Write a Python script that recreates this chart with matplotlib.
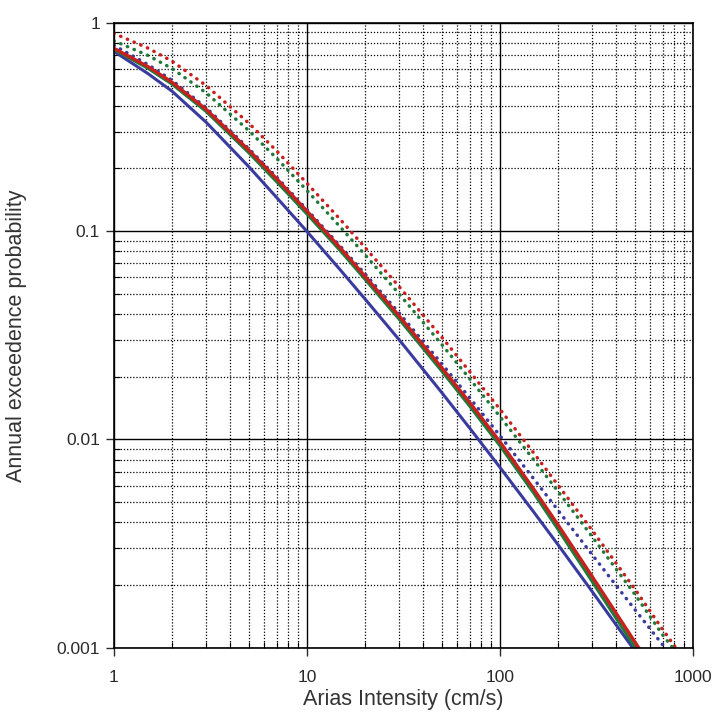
import matplotlib.pyplot as plt
from matplotlib.ticker import LogLocator, FixedFormatter, FixedLocator, NullFormatter

plt.rcParams['font.family'] = ['Liberation Sans', 'DejaVu Sans']

# Arias intensity (cm/s)
ai = [1, 1.5, 2, 3, 5, 7, 10, 15, 20, 30, 50, 70, 100, 150, 200, 300, 500, 700, 1000]

# annual exceedance probability
blue_solid = [0.730, 0.571, 0.470, 0.334, 0.204, 0.1445, 0.0998, 0.0647, 0.0473, 0.0302, 0.0168, 0.0113,
              0.00736, 0.00448, 0.00313, 0.00187, 0.00097, 0.00063, 0.000397]
green_solid = [0.745, 0.605, 0.508, 0.376, 0.238, 0.172, 0.121, 0.080, 0.0588, 0.0379, 0.0213, 0.0144,
               0.00935, 0.00552, 0.00371, 0.00209, 0.00101, 0.00063, 0.00038]
red_solid = [0.755, 0.617, 0.519, 0.385, 0.245, 0.178, 0.125, 0.0826, 0.0608, 0.0393, 0.0221, 0.0150,
             0.00977, 0.00577, 0.0039, 0.00221, 0.00107, 0.000665, 0.0004]
blue_dot = [0.780, 0.631, 0.530, 0.392, 0.249, 0.181, 0.127, 0.0842, 0.0624, 0.0406, 0.0231, 0.0158,
            0.01045, 0.00647, 0.00458, 0.00281, 0.00153, 0.00103, 0.00068]
green_dot = [0.820, 0.698, 0.604, 0.462, 0.304, 0.223, 0.157, 0.104, 0.0771, 0.0501, 0.0286, 0.0195,
             0.0129, 0.00798, 0.00564, 0.00343, 0.00181, 0.00115, 0.00075]
red_dot = [0.890, 0.757, 0.655, 0.501, 0.330, 0.242, 0.170, 0.113, 0.0836, 0.0543, 0.0310, 0.0211,
           0.0140, 0.0086, 0.00605, 0.00368, 0.00192, 0.00122, 0.00077]

BLUE = '#3a3b9e'
RED = '#c8201e'
GREEN = '#1f7a3a'
DOTS = (0, (0.1, 2.0))

fig = plt.figure(figsize=(7.12, 7.15), dpi=100)
ax = fig.add_axes([0.160, 0.094, 0.813, 0.874])

ax.plot(ai, red_dot, color=RED, lw=2.5, ls=DOTS, dash_capstyle='round')
ax.plot(ai, green_dot, color=GREEN, lw=2.5, ls=DOTS, dash_capstyle='round')
ax.plot(ai, blue_dot, color=BLUE, lw=2.5, ls=DOTS, dash_capstyle='round')
ax.plot(ai, blue_solid, color=BLUE, lw=2.2)
ax.plot(ai, green_solid, color=GREEN, lw=2.2)
ax.plot(ai, red_solid, color=RED, lw=2.4)

ax.set_xscale('log')
ax.set_yscale('log')
ax.set_xlim(1, 1000)
ax.set_ylim(0.001, 1)

ax.xaxis.set_major_locator(FixedLocator([1, 10, 100, 1000]))
ax.xaxis.set_major_formatter(FixedFormatter(['1', '10', '100', '1000']))
ax.yaxis.set_major_locator(FixedLocator([0.001, 0.01, 0.1, 1]))
ax.yaxis.set_major_formatter(FixedFormatter(['0.001', '0.01', '0.1', '1']))
ax.xaxis.set_minor_locator(LogLocator(base=10, subs=range(2, 10), numticks=20))
ax.yaxis.set_minor_locator(LogLocator(base=10, subs=range(2, 10), numticks=20))
ax.xaxis.set_minor_formatter(NullFormatter())
ax.yaxis.set_minor_formatter(NullFormatter())

ax.grid(which='major', color='black', lw=1.0, ls='-')
ax.grid(which='minor', color='black', lw=0.9, ls=(0, (1, 1.5)))
ax.set_axisbelow(True)

ax.tick_params(which='major', direction='out', length=6, width=1, labelsize=12.5, colors='#2a2a2a')
ax.tick_params(axis='x', which='major', pad=10)
ax.tick_params(axis='y', which='major', pad=4)
ax.tick_params(which='minor', direction='in', length=4, width=0.8)
for s in ax.spines.values():
    s.set_linewidth(1.2)

ax.set_xlabel('Arias Intensity (cm/s)', fontsize=15.5, color='#333333', labelpad=3)
ax.set_ylabel('Annual exceedence probability', fontsize=15.5, color='#333333')
ax.yaxis.set_label_coords(-0.150, 0.5)

fig.savefig('out.png', dpi=100)
